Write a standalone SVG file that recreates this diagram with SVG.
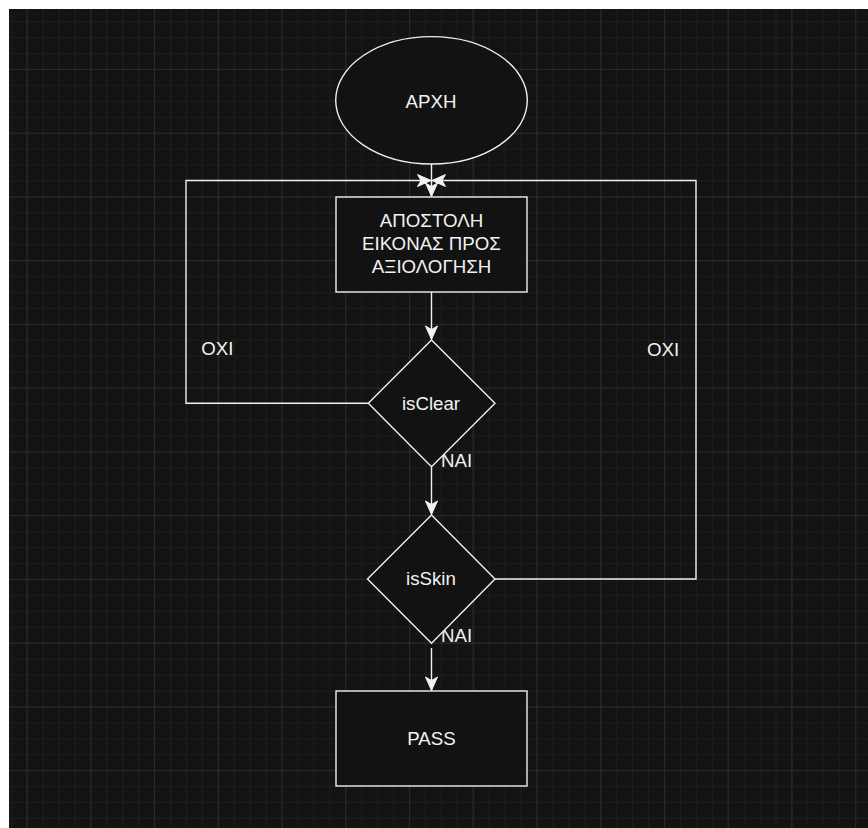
<svg xmlns="http://www.w3.org/2000/svg" width="868" height="828" viewBox="0 0 868 828">
  <defs>
    <pattern id="minor" patternUnits="userSpaceOnUse" x="26.56" y="5.26" width="15.935" height="15.935">
      <path d="M0,0.5 H15.935 M0.5,0 V15.935" fill="none" stroke="#1d1d1d" stroke-width="1"/>
    </pattern>
    <pattern id="major" patternUnits="userSpaceOnUse" x="26.56" y="5.26" width="63.74" height="63.74">
      <path d="M0,0.5 H63.74 M0.5,0 V63.74" fill="none" stroke="#2a2a2a" stroke-width="1"/>
    </pattern>
    <marker id="arrow" markerUnits="userSpaceOnUse" markerWidth="16" markerHeight="16" refX="0" refY="0" viewBox="-15 -8 16 16" orient="auto" overflow="visible">
      <path d="M0,0 L-13.5,-6 L-10,0 L-13.5,6 Z" fill="#f2f2f2" stroke="#f2f2f2" stroke-width="1" stroke-linejoin="miter"/>
    </marker>
  </defs>
  <style>
    .shape { fill: #121212; stroke: #f0f0f0; stroke-width: 1.4; }
    .edge { fill: none; stroke: #f0f0f0; stroke-width: 1.4; marker-end: url(#arrow); }
    .lbl { font-family: "Liberation Sans", Arial, sans-serif; font-size: 18.7px; fill: #f2f2f2; text-anchor: middle; }
  </style>
  <rect x="0" y="0" width="868" height="828" fill="#ffffff"/>
  <rect x="9" y="9" width="859" height="819" fill="#131313"/>
  <rect x="9" y="9" width="859" height="819" fill="url(#minor)"/>
  <rect x="9" y="9" width="859" height="819" fill="url(#major)"/>

  <g id="connectors">
    <path class="edge" d="M431.5,164 V196.5"/>
    <path class="edge" d="M431.5,292 V339.5"/>
    <path class="edge" d="M431.5,467 V514.5"/>
    <path class="edge" d="M431.5,648 V690.5"/>
    <path class="edge" d="M368.3,403.3 H186 V180.5 H431"/>
    <path class="edge" d="M495,579 H696 V180.5 H432"/>
    <text class="lbl" x="217.4" y="355">ΟΧΙ</text>
    <text class="lbl" x="663" y="356">ΟΧΙ</text>
    <text class="lbl" x="456.7" y="466.7">ΝΑΙ</text>
    <text class="lbl" x="456.7" y="642">ΝΑΙ</text>
  </g>

  <g id="start">
    <ellipse class="shape" cx="431.5" cy="100.3" rx="95.8" ry="63.7"/>
    <text class="lbl" x="431" y="108.3">ΑΡΧΗ</text>
  </g>
  <g id="send">
    <rect class="shape" x="336" y="197" width="191" height="95"/>
    <text class="lbl" x="431.5" y="226.7">ΑΠΟΣΤΟΛΗ</text>
    <text class="lbl" x="431.5" y="249.7">ΕΙΚΟΝΑΣ ΠΡΟΣ</text>
    <text class="lbl" x="431.5" y="272.7">ΑΞΙΟΛΟΓΗΣΗ</text>
  </g>
  <g id="isClear">
    <path class="shape" d="M431.5,340 L495,403.3 L431.5,466.7 L368.3,403.3 Z"/>
    <text class="lbl" x="431" y="410">isClear</text>
  </g>
  <g id="isSkin">
    <path class="shape" d="M431.5,515 L495,579 L431.5,643.3 L367.5,579 Z"/>
    <text class="lbl" x="431" y="585">isSkin</text>
  </g>
  <g id="pass">
    <rect class="shape" x="336" y="691" width="191" height="95"/>
    <text class="lbl" x="431.5" y="745.3">PASS</text>
  </g>
</svg>
